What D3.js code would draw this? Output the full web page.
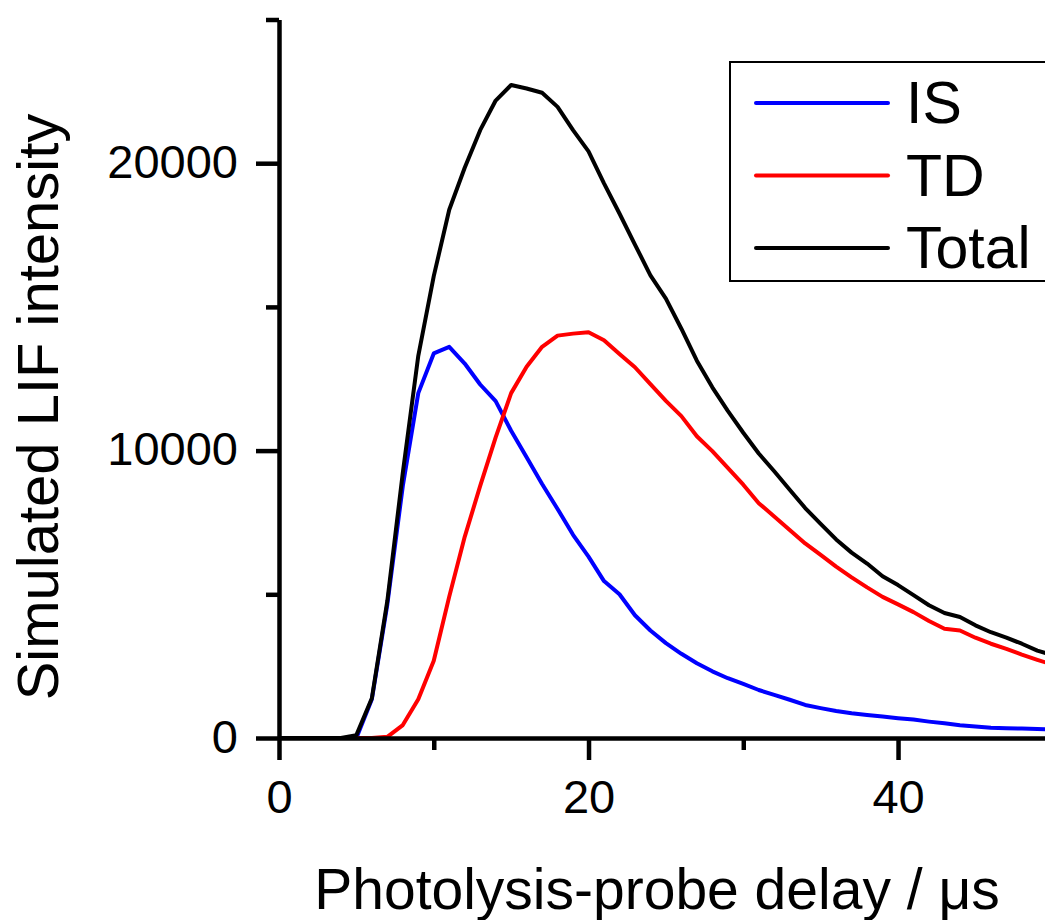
<!DOCTYPE html>
<html>
<head>
<meta charset="utf-8">
<script src="https://cdn.jsdelivr.net/npm/d3@7"></script>
<style>
  body { margin: 0; background: #fff; }
  svg { display: block; font-family: "Liberation Sans", Arial, sans-serif; }
</style>
</head>
<body>
<div id="chart"></div>
<script>
// delay in microseconds, 1 us steps
const delays = d3.range(0, 51);

// simulated LIF intensity
const isValues = [0, 0, 0, 0, 0, 0, 1350, 4650, 8770, 12000, 13380, 13610, 13030, 12300, 11720, 10690,
  9770, 8840, 7970, 7070, 6310, 5460, 5000, 4270, 3740, 3300, 2930, 2600, 2320, 2080, 1880,
  1670, 1500, 1330, 1150, 1040, 940, 860, 800, 750, 690, 640, 570, 510, 440, 400,
  360, 340, 330, 310, 300];
const tdValues = [0, 0, 0, 0, 0, 0, 0, 40, 450, 1350, 2690, 4920, 7000, 8770, 10460, 12000,
  12920, 13610, 14000, 14070, 14120, 13840, 13360, 12900, 12310, 11730, 11200, 10500, 9980, 9400, 8815,
  8170, 7710, 7240, 6770, 6370, 5960, 5590, 5240, 4910, 4650, 4380, 4070, 3800, 3740, 3490,
  3280, 3100, 2900, 2720, 2550];
const totalValues = [0, 0, 0, 0, 0, 100, 1385, 4770, 9230, 13300, 16070, 18380, 19840, 21150, 22180, 22720,
  22600, 22450, 21960, 21150, 20410, 19300, 18250, 17170, 16100, 15290, 14240, 13130, 12200, 11380, 10620,
  9900, 9280, 8640, 8000, 7450, 6910, 6450, 6070, 5630, 5320, 4970, 4620, 4350, 4210, 3920,
  3680, 3490, 3280, 3040, 2880];

const seriesNames = ["IS", "TD", "Total"];
const seriesColors = ["#0000ff", "#ff0000", "#000000"];

const xMajorTicks = [0, 20, 40];
const xMinorTicks = [10, 30, 50];
const yMajorTicks = [0, 10000, 20000];
const yMinorTicks = [5000, 15000, 25000];

const fullWidth = 1045;
const fullHeight = 920;

const svg = d3.select("#chart").append("svg")
    .attr("width", fullWidth)
    .attr("height", fullHeight);

const x = d3.scaleLinear().domain([0, 50]).range([279, 1052.8]);
const y = d3.scaleLinear().domain([0, 25000]).range([738, 19.5]);

const series = [isValues, tdValues, totalValues].map((vals, i) => ({
    name: seriesNames[i],
    color: seriesColors[i],
    values: vals.map((v, j) => ({ t: delays[j], v: v }))
}));

const line = d3.line()
    .x(d => x(d.t))
    .y(d => y(d.v));

svg.append("g")
    .selectAll("path")
    .data(series)
    .join("path")
    .attr("d", d => line(d.values))
    .attr("fill", "none")
    .attr("stroke", d => d.color)
    .attr("stroke-width", 4)
    .attr("stroke-linejoin", "round");

// axes: minor ticks first, then major ticks with labels
const styleAxis = g => {
    g.selectAll("path.domain").attr("stroke", "#000").attr("stroke-width", 4.5);
    g.selectAll(".tick line").attr("stroke", "#000").attr("stroke-width", 4.5);
    g.selectAll(".tick text")
        .attr("fill", "#000")
        .style("font-size", "47px")
        .style("font-family", "'Liberation Sans', Arial, sans-serif");
};

svg.append("g")
    .attr("transform", `translate(0,${y(0)})`)
    .call(d3.axisBottom(x).tickValues(xMinorTicks).tickSize(12).tickSizeOuter(0).tickFormat(""))
    .call(styleAxis);

svg.append("g")
    .attr("transform", `translate(0,${y(0)})`)
    .call(d3.axisBottom(x).tickValues(xMajorTicks).tickSize(22).tickSizeOuter(0).tickPadding(20).tickFormat(d3.format("d")))
    .call(styleAxis)
    .call(g => g.select("path.domain").remove());

svg.append("g")
    .attr("transform", `translate(${x(0)},0)`)
    .call(d3.axisLeft(y).tickValues(yMinorTicks).tickSize(13).tickSizeOuter(0).tickFormat(""))
    .call(styleAxis);

svg.append("g")
    .attr("transform", `translate(${x(0)},0)`)
    .call(d3.axisLeft(y).tickValues(yMajorTicks).tickSize(23).tickSizeOuter(0).tickPadding(18).tickFormat(d3.format("d")))
    .call(styleAxis)
    .call(g => g.select("path.domain").remove())
    .call(g => g.selectAll(".tick text").attr("dy", "0.3em"));

// axis titles
svg.append("text")
    .attr("x", 657)
    .attr("y", 909)
    .attr("text-anchor", "middle")
    .style("font-size", "57px")
    .text("Photolysis-probe delay / μs");

svg.append("text")
    .attr("transform", "translate(58,407) rotate(-90)")
    .attr("text-anchor", "middle")
    .style("font-size", "58px")
    .text("Simulated LIF intensity");

// legend
const legend = svg.append("g");

legend.append("rect")
    .attr("x", 730)
    .attr("y", 62)
    .attr("width", 340)
    .attr("height", 219)
    .attr("fill", "#fff")
    .attr("stroke", "#000")
    .attr("stroke-width", 2);

const legendRows = legend.selectAll("g.row")
    .data(series)
    .join("g")
    .attr("class", "row")
    .attr("transform", (d, i) => `translate(0,${103 + i * 72.5})`);

legendRows.append("line")
    .attr("x1", 756)
    .attr("x2", 888)
    .attr("stroke", d => d.color)
    .attr("stroke-width", 4)
    .attr("stroke-linecap", "round");

legendRows.append("text")
    .attr("x", 906)
    .attr("y", 20)
    .style("font-size", "59px")
    .text(d => d.name);
</script>
</body>
</html>
